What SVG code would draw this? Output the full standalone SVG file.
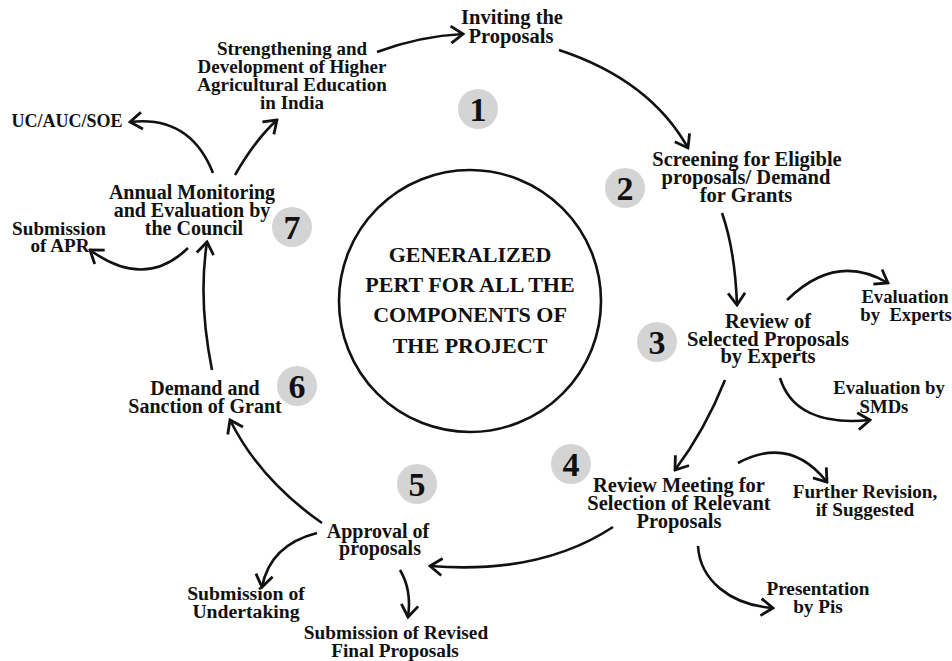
<svg xmlns="http://www.w3.org/2000/svg" width="952" height="661" viewBox="0 0 952 661">
<style>
.t{font-family:"Liberation Serif","Times New Roman",serif;font-weight:bold;font-size:19px;fill:#111;text-anchor:middle}
.c{font-family:"Liberation Serif","Times New Roman",serif;font-weight:bold;font-size:22px;fill:#111;text-anchor:middle}
.n{font-family:"Liberation Serif","Times New Roman",serif;font-weight:bold;font-size:34px;fill:#111;text-anchor:middle}
.b{fill:#d4d4d4}
.e{fill:none;stroke:#111;stroke-width:2.6;marker-end:url(#ah)}
</style>
<defs>
<marker id="ah" markerUnits="userSpaceOnUse" viewBox="-14 -10 16 20" markerWidth="16" markerHeight="20" refX="0" refY="0" orient="auto">
<path d="M-12,-8.5 L0,0 L-12,8.5" fill="none" stroke="#111" stroke-width="2.8" stroke-linejoin="miter"/>
</marker>
</defs>
<rect width="952" height="661" fill="#fff"/>
<g id="center">
<circle cx="470" cy="301" r="131" fill="none" stroke="#111" stroke-width="2.6"/>
<text class="c"><tspan x="470" y="262">GENERALIZED</tspan><tspan x="470" y="292">PERT FOR ALL THE</tspan><tspan x="470" y="322">COMPONENTS OF</tspan><tspan x="470" y="353">THE PROJECT</tspan></text>
</g>
<g id="badges">
<circle class="b" cx="478" cy="109" r="20"/><text class="n" x="478" y="121">1</text>
<circle class="b" cx="625" cy="188" r="20"/><text class="n" x="625" y="200">2</text>
<circle class="b" cx="657" cy="342" r="20"/><text class="n" x="657" y="354">3</text>
<circle class="b" cx="571" cy="464" r="20"/><text class="n" x="571" y="476">4</text>
<circle class="b" cx="417" cy="484" r="20"/><text class="n" x="417" y="496">5</text>
<circle class="b" cx="297" cy="386" r="20"/><text class="n" x="297" y="398">6</text>
<circle class="b" cx="292" cy="227" r="20"/><text class="n" x="292" y="239">7</text>
</g>
<g id="strengthening">
<text class="t" style="font-size:19px"><tspan x="292" y="55">Strengthening and</tspan><tspan x="292" y="73">Development of Higher</tspan><tspan x="292" y="91">Agricultural Education</tspan><tspan x="292" y="109">in India</tspan></text>
</g>
<g id="inviting">
<text class="t" style="font-size:20.5px"><tspan x="512" y="24">Inviting the</tspan><tspan x="511" y="43">Proposals</tspan></text>
</g>
<g id="screening">
<text class="t" style="font-size:20.5px"><tspan x="747" y="166">Screening for Eligible</tspan><tspan x="746" y="184">proposals/ Demand</tspan><tspan x="746" y="202">for Grants</tspan></text>
</g>
<g id="review">
<text class="t" style="font-size:20.5px"><tspan x="768" y="328">Review of</tspan><tspan x="768" y="346">Selected Proposals</tspan><tspan x="768" y="363">by Experts</tspan></text>
</g>
<g id="eval-experts">
<text class="t" style="font-size:18.7px;white-space:pre" xml:space="preserve"><tspan x="905" y="303">Evaluation</tspan><tspan x="906" y="321">by  Experts</tspan></text>
</g>
<g id="eval-smds">
<text class="t" style="font-size:18.7px"><tspan x="889" y="394">Evaluation by</tspan><tspan x="884" y="413">SMDs</tspan></text>
</g>
<g id="review-meeting">
<text class="t" style="font-size:20.5px"><tspan x="679" y="492">Review Meeting for</tspan><tspan x="679" y="510">Selection of Relevant</tspan><tspan x="679" y="528">Proposals</tspan></text>
</g>
<g id="further-revision">
<text class="t" style="font-size:19.2px"><tspan x="865" y="498">Further Revision,</tspan><tspan x="865" y="516">if Suggested</tspan></text>
</g>
<g id="presentation">
<text class="t" style="font-size:19.2px"><tspan x="818" y="595">Presentation</tspan><tspan x="818" y="613">by Pis</tspan></text>
</g>
<g id="approval">
<text class="t" style="font-size:20px"><tspan x="378" y="538">Approval of</tspan><tspan x="380" y="555">proposals</tspan></text>
</g>
<g id="undertaking">
<text class="t" style="font-size:19.7px"><tspan x="246" y="600">Submission of</tspan><tspan x="246" y="618">Undertaking</tspan></text>
</g>
<g id="revised">
<text class="t" style="font-size:19.3px"><tspan x="396" y="639">Submission of Revised</tspan><tspan x="395" y="657">Final Proposals</tspan></text>
</g>
<g id="demand">
<text class="t" style="font-size:20px"><tspan x="205" y="395">Demand and</tspan><tspan x="205" y="413">Sanction of Grant</tspan></text>
</g>
<g id="monitoring">
<text class="t" style="font-size:20px"><tspan x="192" y="199">Annual Monitoring</tspan><tspan x="192" y="217">and Evaluation by</tspan><tspan x="194" y="235">the Council</tspan></text>
</g>
<g id="apr">
<text class="t" style="font-size:19.2px"><tspan x="59" y="235">Submission</tspan><tspan x="60" y="252">of APR</tspan></text>
</g>
<g id="uc">
<text class="t" style="font-size:18px" x="67" y="127">UC/AUC/SOE</text>
</g>
<g id="connectors">
<path class="e" d="M377,52 Q420,36 463,34"/>
<path class="e" d="M559,50 Q650,80 688,148"/>
<path class="e" d="M722,213 Q735,250 737,305"/>
<path class="e" d="M787,300 Q836,252 888,283"/>
<path class="e" d="M780,378 C790,410 820,425 870,420"/>
<path class="e" d="M725,380 Q705,430 675,470"/>
<path class="e" d="M738,463 Q790,435 827,482"/>
<path class="e" d="M698,546 C700,580 730,605 773,608"/>
<path class="e" d="M613,527 Q540,575 430,566"/>
<path class="e" d="M322,523 Q260,480 230,420"/>
<path class="e" d="M212,370 Q198,300 207,242"/>
<path class="e" d="M188,248 Q145,290 90,250"/>
<path class="e" d="M213,173 Q190,115 130,122"/>
<path class="e" d="M235,175 Q255,140 277,120"/>
<path class="e" d="M317,533 Q270,545 262,587"/>
<path class="e" d="M400,570 Q412,590 408,617"/>
</g>
</svg>
